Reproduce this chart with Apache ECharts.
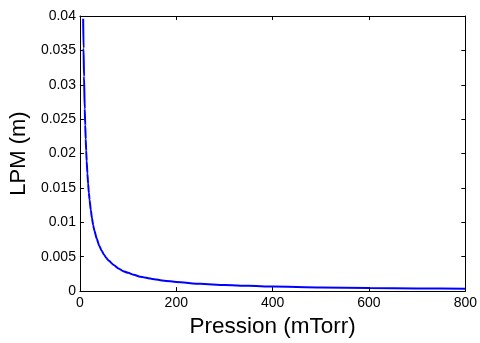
<!DOCTYPE html>
<html>
<head>
<meta charset="utf-8">
<script src="https://cdn.jsdelivr.net/npm/echarts@6/dist/echarts.min.js"></script>
<style>html,body{margin:0;padding:0;background:#fff}#c{width:480px;height:343px}</style>
</head>
<body>
<div id="c"></div>
<script>
var pressure = [6.7, 7.5, 8.5, 10, 11, 12, 13, 14, 15.5, 17, 18.5, 20, 22.5, 25, 27.5, 30, 35, 40, 45, 50, 55, 60, 70, 80, 90, 100, 112, 125, 150, 175, 200, 250, 300, 350, 400, 500, 600, 700, 800];
var lpm = [0.0396, 0.0353, 0.0312, 0.0265, 0.0241, 0.0221, 0.0204, 0.0189, 0.0171, 0.0156, 0.0143, 0.0133, 0.0118, 0.0106, 0.0096, 0.0088, 0.0076, 0.0066, 0.0059, 0.0053, 0.0048, 0.0044, 0.0038, 0.0033, 0.0029, 0.00265, 0.00237, 0.0021, 0.00177, 0.00151, 0.00133, 0.00106, 0.00088, 0.00076, 0.00066, 0.00053, 0.00044, 0.00038, 0.00033];
var xTicks = [0, 200, 400, 600, 800];
var yTicks = [0, 0.005, 0.01, 0.015, 0.02, 0.025, 0.03, 0.035, 0.04];

var font = 'Liberation Sans, Arial, Helvetica, sans-serif';
var chart = echarts.init(document.getElementById('c'), null, {renderer: 'canvas'});
var data = pressure.map(function (p, i) { return [p, lpm[i]]; });
var axisLine = {show: true, onZero: false, lineStyle: {color: '#000', width: 1}};
var tick = {show: true, inside: true, length: 4, lineStyle: {color: '#000'}};
chart.setOption({
  animation: false,
  grid: {left: 78, top: 16, right: 10, bottom: 41, containLabel: false},
  xAxis: [{
    type: 'value', min: xTicks[0], max: xTicks[xTicks.length - 1], interval: 200,
    axisLine: axisLine, axisTick: tick, splitLine: {show: false},
    axisLabel: {color: '#000', fontSize: 14, fontFamily: font, margin: 5},
    name: 'Pression (mTorr)', nameLocation: 'middle', nameGap: 17,
    nameTextStyle: {color: '#000', fontSize: 22.5, fontFamily: font}
  }, {
    type: 'value', position: 'top', min: xTicks[0], max: xTicks[xTicks.length - 1], interval: 200,
    axisLine: axisLine, axisTick: tick, axisLabel: {show: false}, splitLine: {show: false}
  }],
  yAxis: [{
    type: 'value', min: yTicks[0], max: yTicks[yTicks.length - 1], interval: 0.005,
    axisLine: axisLine, axisTick: tick, splitLine: {show: false},
    axisLabel: {color: '#000', fontSize: 14, fontFamily: font, margin: 4,
      formatter: function (v) { return String(+v.toFixed(3)); }},
    name: 'LPM (m)', nameLocation: 'middle', nameGap: 42, nameRotate: 90,
    nameTextStyle: {color: '#000', fontSize: 22, fontFamily: font}
  }, {
    type: 'value', position: 'right', min: yTicks[0], max: yTicks[yTicks.length - 1], interval: 0.005,
    axisLine: axisLine, axisTick: tick, axisLabel: {show: false}, splitLine: {show: false}
  }],
  series: [{
    type: 'line', data: data, showSymbol: false, smooth: 0.2, smoothMonotone: 'x',
    lineStyle: {color: '#0000ff', width: 2}, clip: true
  }]
});
</script>
</body>
</html>
